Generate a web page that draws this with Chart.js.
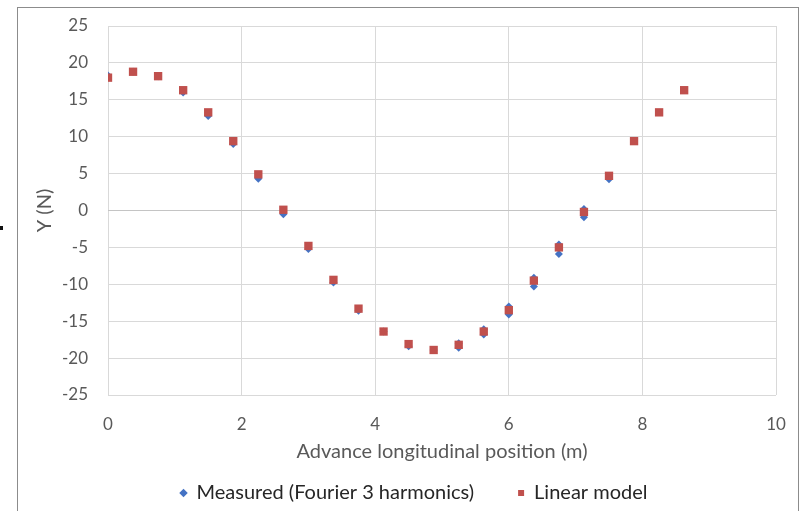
<!DOCTYPE html>
<html>
<head>
<meta charset="utf-8">
<script src="https://cdn.jsdelivr.net/npm/chart.js@4/dist/chart.umd.min.js"></script>
<style>
  html, body { margin: 0; padding: 0; background: #fff; overflow: hidden; }
  #wrap { position: relative; width: 799px; height: 511px; }
  #frame { position: absolute; left: 17px; top: 7px; width: 780px; height: 520px;
           border: 1px solid #8c8c8c; pointer-events: none; }
  #tick { position: absolute; left: 0; top: 226px; width: 3px; height: 4px; background: #111; }
</style>
</head>
<body>
<div id="wrap">
  <canvas id="myChart" width="799" height="511"></canvas>
  <div id="frame"></div>
  <div id="tick"></div>
</div>
<script>
// values
const linearX = [0, 0.375, 0.75, 1.125, 1.5, 1.875, 2.25, 2.625, 3.0, 3.375, 3.75, 4.125,
  4.5, 4.875, 5.25, 5.625, 6.0, 6.375, 6.75, 7.125, 7.5, 7.875, 8.25, 8.625];
const linearY = [18.0, 18.8, 18.2, 16.3, 13.3, 9.4, 4.9, 0.1, -4.8, -9.4, -13.3, -16.4,
  -18.1, -18.9, -18.2, -16.4, -13.5, -9.5, -5.0, -0.2, 4.7, 9.4, 13.3, 16.3];

const measuredX = [0, 0.375, 0.75, 1.125, 1.5, 1.875, 2.25, 2.625, 3.0, 3.375, 3.75, 4.125,
  4.5, 4.875, 5.25, 5.25, 5.625, 5.625, 6.0, 6.0, 6.375, 6.375, 6.75, 6.75, 7.125, 7.125, 7.5];
const measuredY = [18.3, 18.8, 18.2, 16.0, 12.8, 9.0, 4.3, -0.5, -5.2, -9.75, -13.6, -16.4,
  -18.4, -18.9, -18.0, -18.6, -16.1, -16.8, -13.0, -14.1, -9.1, -10.3, -4.6, -5.9, 0.2, -0.9, 4.25];

const seriesNames = ['Measured (Fourier 3 harmonics)', 'Linear model'];
const xTitle = 'Advance longitudinal position (m)';
const yTitle = 'Y (N)';

function toPoints(xs, ys) {
  return xs.map((x, i) => ({ x: x, y: ys[i] }));
}

const textGray = '#595959';
const font = 'Lato';

const ctx = document.getElementById('myChart').getContext('2d');
const myChart = new Chart(ctx, {
  type: 'scatter',
  data: {
    datasets: [{
      label: seriesNames[0],
      data: toPoints(measuredX, measuredY),
      pointStyle: 'rectRot',
      pointRadius: 4,
      backgroundColor: '#4472C4',
      borderColor: '#4472C4',
      borderWidth: 0,
      order: 1
    },
    {
      label: seriesNames[1],
      data: toPoints(linearX, linearY),
      pointStyle: 'rect',
      pointRadius: 5.9,
      backgroundColor: '#C0504D',
      borderColor: '#C0504D',
      borderWidth: 0,
      order: 0
    }]
  },
  options: {
    responsive: false,
    animation: false,
    layout: { padding: { left: 52, right: 23, top: 26, bottom: -2 } },
    scales: {
      x: {
        type: 'linear',
        min: 0,
        max: 10,
        border: { display: false },
        // tick marks kept invisible, only used to push the labels away from the plot
        grid: { color: '#d9d9d9', drawTicks: true, tickLength: 16, tickColor: 'rgba(0,0,0,0)' },
        ticks: { stepSize: 2, padding: 3, color: textGray, font: { family: font, size: 17 } },
        title: { display: true, text: xTitle, color: textGray,
                 font: { family: font, size: 20 }, padding: { top: 0, bottom: -25 } },
        afterFit: function (scale) { scale.height = 44; }
      },
      y: {
        min: -25,
        max: 25,
        border: { display: false },
        grid: {
          color: function (c) { return c.tick && c.tick.value === 0 ? '#c4c4c4' : '#d9d9d9'; },
          drawTicks: true,
          tickLength: 17,
          tickColor: 'rgba(0,0,0,0)'
        },
        ticks: { stepSize: 5, padding: 3, color: textGray, font: { family: font, size: 17 } },
        title: { display: true, text: yTitle, color: textGray,
                 font: { family: font, size: 20 }, padding: { top: -19, bottom: 0 } },
        afterFit: function (scale) { scale.width = 56; }
      }
    },
    plugins: {
      legend: {
        position: 'bottom',
        labels: {
          usePointStyle: true,
          boxWidth: 6,
          boxHeight: 6,
          padding: 44,
          color: '#262626',
          font: { family: font, size: 20 },
          sort: function (a, b) { return a.datasetIndex - b.datasetIndex; }
        }
      },
      tooltip: { enabled: false }
    }
  }
});
</script>
</body>
</html>
